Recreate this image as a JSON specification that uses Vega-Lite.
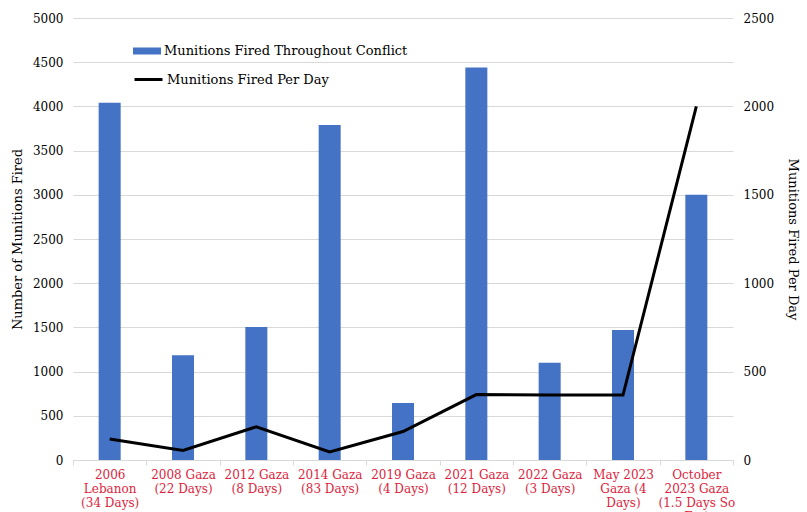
{
  "$schema": "https://vega.github.io/schema/vega-lite/v6.json",
  "width": 660,
  "height": 442,
  "autosize": {"type": "none"},
  "padding": {"left": 73, "top": 18, "right": 74, "bottom": 52},
  "background": "white",
  "config": {
    "font": "DejaVu Serif",
    "view": {"stroke": null},
    "axis": {"labelFont": "DejaVu Serif", "titleFont": "DejaVu Serif", "labelColor": "#000000", "titleColor": "#000000", "titleFontWeight": "normal"}
  },
  "data": {
    "values": [
      {"conflict": "2006 Lebanon (34 Days)", "total": 4040, "perDay": 119},
      {"conflict": "2008 Gaza (22 Days)", "total": 1185, "perDay": 54},
      {"conflict": "2012 Gaza (8 Days)", "total": 1505, "perDay": 188},
      {"conflict": "2014 Gaza (83 Days)", "total": 3790, "perDay": 46},
      {"conflict": "2019 Gaza (4 Days)", "total": 645, "perDay": 161},
      {"conflict": "2021 Gaza (12 Days)", "total": 4440, "perDay": 370},
      {"conflict": "2022 Gaza (3 Days)", "total": 1100, "perDay": 367},
      {"conflict": "May 2023 Gaza (4 Days)", "total": 1470, "perDay": 367},
      {"conflict": "October 2023 Gaza (1.5 Days So Far)", "total": 3000, "perDay": 2000}
    ]
  },
  "encoding": {
    "x": {
      "field": "conflict",
      "type": "nominal",
      "sort": null,
      "scale": {"paddingInner": 0, "paddingOuter": 0},
      "axis": {
        "title": null,
        "labelAngle": 0,
        "labelColor": "#DC1E3C",
        "labelFontSize": 12,
        "labelLineHeight": 14,
        "labelPadding": 4,
        "labelBaseline": "top",
        "labelLimit": 0,
        "tickBand": "extent",
        "tickColor": "#d9d9d9",
        "tickSize": 5,
        "domainColor": "#d9d9d9",
        "labelExpr": "{'2006 Lebanon (34 Days)': ['2006', 'Lebanon', '(34 Days)'], '2008 Gaza (22 Days)': ['2008 Gaza', '(22 Days)'], '2012 Gaza (8 Days)': ['2012 Gaza', '(8 Days)'], '2014 Gaza (83 Days)': ['2014 Gaza', '(83 Days)'], '2019 Gaza (4 Days)': ['2019 Gaza', '(4 Days)'], '2021 Gaza (12 Days)': ['2021 Gaza', '(12 Days)'], '2022 Gaza (3 Days)': ['2022 Gaza', '(3 Days)'], 'May 2023 Gaza (4 Days)': ['May 2023', 'Gaza (4', 'Days)'], 'October 2023 Gaza (1.5 Days So Far)': ['October', '2023 Gaza', '(1.5 Days So', 'Far)']}[datum.label]"
      }
    }
  },
  "layer": [
    {
      "mark": {"type": "bar", "width": {"band": 0.3}, "color": "#4472C4"},
      "encoding": {
        "y": {
          "field": "total",
          "type": "quantitative",
          "scale": {"domain": [0, 5000], "nice": false},
          "axis": {
            "title": "Number of Munitions Fired",
            "titleFontSize": 13,
            "titlePadding": 8,
            "labelFontSize": 12,
            "labelPadding": 10,
            "format": "d",
            "values": [0, 500, 1000, 1500, 2000, 2500, 3000, 3500, 4000, 4500, 5000],
            "domain": false,
            "ticks": false,
            "gridColor": "#d9d9d9",
            "grid": true
          }
        },
        "fill": {
          "datum": "Munitions Fired Throughout Conflict",
          "type": "nominal",
          "scale": {"range": ["#4472C4"]},
          "legend": {
            "title": null,
            "orient": "none",
            "legendX": 60,
            "legendY": 19,
            "symbolType": "M-1,-0.25H1V0.25H-1Z",
            "symbolSize": 784,
            "symbolStrokeWidth": 0,
            "labelFontSize": 13,
            "labelFont": "DejaVu Serif",
            "labelColor": "#000000",
            "labelLimit": 0,
            "labelOffset": 3
          }
        }
      }
    },
    {
      "mark": {"type": "line", "color": "black", "strokeWidth": 3},
      "encoding": {
        "y": {
          "field": "perDay",
          "type": "quantitative",
          "scale": {"domain": [0, 2500], "nice": false},
          "axis": {
            "orient": "right",
            "title": "Munitions Fired Per Day",
            "titleFontSize": 13,
            "titlePadding": 12,
            "labelFontSize": 12,
            "labelPadding": 10,
            "format": "d",
            "values": [0, 500, 1000, 1500, 2000, 2500],
            "domain": false,
            "ticks": false,
            "grid": false
          }
        },
        "stroke": {
          "datum": "Munitions Fired Per Day",
          "type": "nominal",
          "scale": {"range": ["black"]},
          "legend": {
            "title": null,
            "orient": "none",
            "legendX": 60,
            "legendY": 46,
            "symbolType": "stroke",
            "symbolSize": 784,
            "symbolStrokeWidth": 3,
            "labelFontSize": 13,
            "labelFont": "DejaVu Serif",
            "labelColor": "#000000",
            "labelLimit": 0,
            "labelOffset": 3
          }
        }
      }
    }
  ],
  "resolve": {"scale": {"y": "independent", "fill": "independent", "stroke": "independent"}}
}
